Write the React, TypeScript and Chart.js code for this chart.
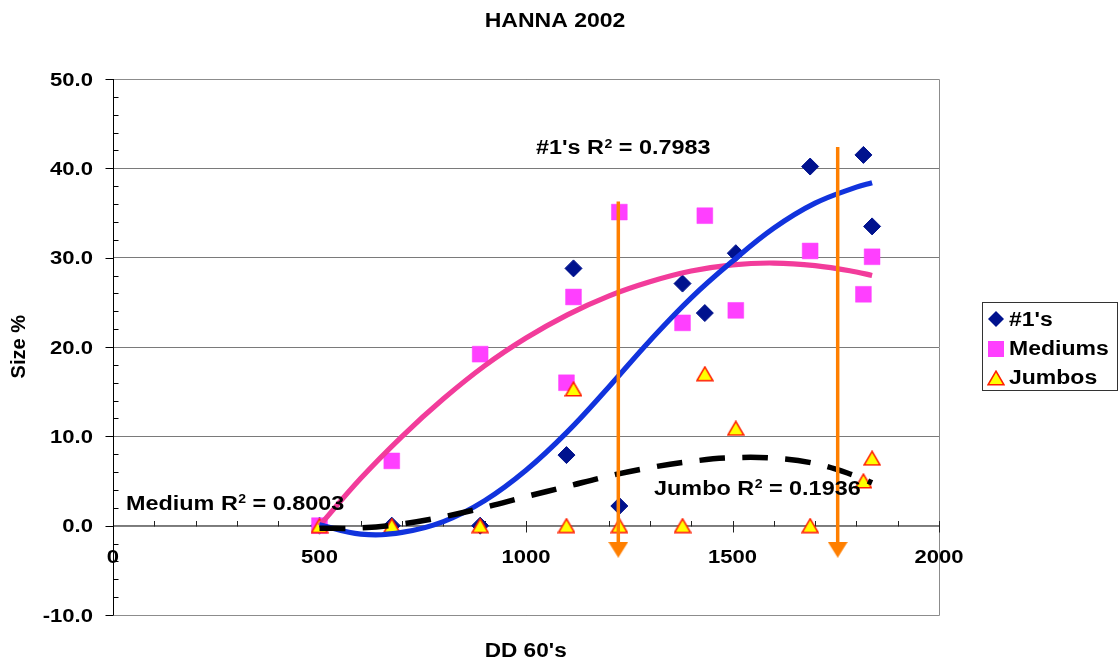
import React, { useEffect, useRef } from "react";
import { Chart, registerables } from "chart.js";

Chart.register(...registerables);

// ---------- data ----------
const TITLE = "HANNA 2002";
const X_TITLE = "DD 60's";
const Y_TITLE = "Size %";
const seriesNames = ["#1's", "Mediums", "Jumbos"];

const ddX = [500, 675, 889, 1098, 1115, 1226, 1379, 1433, 1508, 1688, 1817, 1838];
const onesY = [0, 0, 0, 7.9, 28.8, 2.2, 27.1, 23.8, 30.5, 40.2, 41.5, 33.5];
const mediumsY = [0, 7.25, 19.2, 16.0, 25.6, 35.1, 22.7, 34.7, 24.1, 30.75, 25.9, 30.1];
const jumbosY = [0, 0, 0, 0, 15.3, 0, 0, 17.0, 10.9, 0, 5.0, 7.55];

// trend lines
const trendX = [500, 600, 700, 800, 900, 1000, 1100, 1200, 1300, 1400, 1500, 1600, 1700, 1800, 1838];
const onesTrend = [0.1, -0.95, -0.75, 0.45, 2.8, 6.2, 10.5, 15.5, 20.7, 25.5, 29.6, 33.3, 36.1, 37.9, 38.4];
const mediumsTrend = [0, 5.3, 10.0, 14.2, 17.9, 21.0, 23.6, 25.7, 27.3, 28.5, 29.2, 29.4, 29.1, 28.4, 28.0];
const jumbosTrend = [-0.3, -0.25, 0.2, 1.0, 2.05, 3.25, 4.4, 5.55, 6.5, 7.2, 7.6, 7.55, 6.95, 5.55, 4.8];

// orange arrows
const arrowX = [1223.5, 1754.7];
const arrowTop = [36.3, 42.4];
const arrowHead = -2.69;

// R² annotations
const r2Names = ["#1's", "Medium", "Jumbo"];
const r2Values = ["0.7983", "0.8003", "0.1936"];
const r2AnchorX = [1024, 31.5, 1310];
const r2AnchorY = [41.6, 1.76, 3.44];

// axes
const xTickValues = [0, 500, 1000, 1500, 2000];
const xTickLabels = ["0", "500", "1000", "1500", "2000"];
const yTickValues = [-10, 0, 10, 20, 30, 40, 50];
const yTickLabels = ["-10.0", "0.0", "10.0", "20.0", "30.0", "40.0", "50.0"];

// ---------- styles ----------
const NAVY = "#00128e";
const MAGENTA = "#ff3fff";
const BLUE = "#1133dd";
const PINK = "#f23c9b";
const ORANGE = "#ff7f00";
const FONT = '"Liberation Sans", Arial, sans-serif';

function makeTriangle(): HTMLCanvasElement {
  const c = document.createElement("canvas");
  c.width = 18;
  c.height = 16;
  const g = c.getContext("2d")!;
  g.beginPath();
  g.moveTo(9, 1.2);
  g.lineTo(17, 14.8);
  g.lineTo(1, 14.8);
  g.closePath();
  g.fillStyle = "#ffff00";
  g.fill();
  g.lineWidth = 1.6;
  g.strokeStyle = "#ff2000";
  g.lineJoin = "miter";
  g.stroke();
  return c;
}

function makeArrowHead(): HTMLCanvasElement {
  const c = document.createElement("canvas");
  c.width = 20;
  c.height = 16;
  const g = c.getContext("2d")!;
  g.beginPath();
  g.moveTo(0, 0);
  g.lineTo(20, 0);
  g.lineTo(10, 16);
  g.closePath();
  g.fillStyle = ORANGE;
  g.fill();
  return c;
}

function sText(
  ctx: CanvasRenderingContext2D,
  text: string,
  x: number,
  y: number,
  size: number,
  sx: number,
  align: "left" | "center" | "right"
): number {
  ctx.save();
  ctx.font = `bold ${size}px ${FONT}`;
  const w = ctx.measureText(text).width * sx;
  let left = x;
  if (align === "center") left = x - w / 2;
  else if (align === "right") left = x - w;
  ctx.translate(left, y);
  ctx.scale(sx, 1);
  ctx.textAlign = "left";
  ctx.textBaseline = "alphabetic";
  ctx.fillStyle = "#000";
  ctx.fillText(text, 0, 0);
  ctx.restore();
  return w;
}

function pts(xs: number[], ys: number[]) {
  return xs.map((x, i) => ({ x, y: ys[i] }));
}

export default function App() {
  const ref = useRef<HTMLCanvasElement>(null);

  useEffect(() => {
    const canvas = ref.current!;
    const tri = makeTriangle();
    const head = makeArrowHead();

    const decor = {
      id: "decor",
      beforeDatasetsDraw(chart: any) {
        const ctx: CanvasRenderingContext2D = chart.ctx;
        const xs = chart.scales.x;
        const ys = chart.scales.y;
        const area = chart.chartArea;
        ctx.save();
        // plot border (top/right/bottom)
        ctx.strokeStyle = "#8c8c8c";
        ctx.lineWidth = 1;
        ctx.beginPath();
        ctx.moveTo(area.left, Math.round(area.top) + 0.5);
        ctx.lineTo(Math.round(area.right) + 0.5, Math.round(area.top) + 0.5);
        ctx.lineTo(Math.round(area.right) + 0.5, Math.round(area.bottom) + 0.5);
        ctx.lineTo(area.left, Math.round(area.bottom) + 0.5);
        ctx.stroke();

        // x axis at y = 0
        const y0 = Math.round(ys.getPixelForValue(0)) + 0.5;
        ctx.strokeStyle = "#808080";
        ctx.beginPath();
        ctx.moveTo(area.left, y0);
        ctx.lineTo(area.right, y0);
        ctx.stroke();
        ctx.strokeStyle = "#222";
        for (let v = 100; v <= 2000; v += 100) {
          const px = Math.round(xs.getPixelForValue(v)) + 0.5;
          ctx.beginPath();
          if (v % 500 === 0) {
            ctx.moveTo(px, y0 - 5.5);
            ctx.lineTo(px, y0 + 6);
          } else {
            ctx.moveTo(px, y0 - 5.5);
            ctx.lineTo(px, y0);
          }
          ctx.stroke();
        }

        // y axis at x = 0
        const x0 = Math.round(xs.getPixelForValue(0)) + 0.5;
        ctx.strokeStyle = "#000";
        ctx.beginPath();
        ctx.moveTo(x0, area.top);
        ctx.lineTo(x0, area.bottom);
        ctx.stroke();
        for (let v = -10; v <= 50; v += 2) {
          const py = Math.round(ys.getPixelForValue(v)) + 0.5;
          ctx.beginPath();
          if (v % 10 === 0) {
            ctx.moveTo(x0 - 8, py);
            ctx.lineTo(x0, py);
          } else {
            ctx.moveTo(x0, py);
            ctx.lineTo(x0 + 5, py);
          }
          ctx.stroke();
        }
        ctx.restore();
      },
      afterDraw(chart: any) {
        const ctx: CanvasRenderingContext2D = chart.ctx;
        const xs = chart.scales.x;
        const ys = chart.scales.y;

        // title
        sText(ctx, TITLE, 555, 26.7, 20, 1.15, "center");

        // y tick labels
        yTickValues.forEach((v, i) => {
          const py = ys.getPixelForValue(v);
          sText(ctx, yTickLabels[i], 93, py + 6.8, 19, 1.16, "right");
        });
        // x tick labels
        const y0 = ys.getPixelForValue(0);
        xTickValues.forEach((v, i) => {
          const px = xs.getPixelForValue(v);
          sText(ctx, xTickLabels[i], px, y0 + 37.5, 19, 1.16, "center");
        });

        // axis titles
        sText(ctx, X_TITLE, 525.7, 656.7, 20, 1.13, "center");
        ctx.save();
        ctx.translate(25, 346.7);
        ctx.rotate(-Math.PI / 2);
        ctx.font = `bold 20px ${FONT}`;
        ctx.fillStyle = "#000";
        ctx.textAlign = "center";
        ctx.textBaseline = "alphabetic";
        ctx.fillText(Y_TITLE, 0, 0);
        ctx.restore();

        // R² annotations
        r2Names.forEach((name, i) => {
          const px = xs.getPixelForValue(r2AnchorX[i]);
          const py = ys.getPixelForValue(r2AnchorY[i]);
          let x = px;
          x += sText(ctx, name + " R", x, py, 20, 1.17, "left");
          x += sText(ctx, "2", x + 0.5, py - 6.5, 12, 1.17, "left") + 0.5;
          sText(ctx, " = " + r2Values[i], x, py, 20, 1.17, "left");
        });

        // legend
        ctx.save();
        ctx.strokeStyle = "#333";
        ctx.lineWidth = 1;
        ctx.strokeRect(982.5, 302.5, 135, 88);
        const mx = 996;
        const rows = [319, 349, 378];
        const bases = [325.5, 355, 384];
        // diamond
        ctx.fillStyle = NAVY;
        ctx.beginPath();
        ctx.moveTo(mx, rows[0] - 8);
        ctx.lineTo(mx + 8, rows[0]);
        ctx.lineTo(mx, rows[0] + 8);
        ctx.lineTo(mx - 8, rows[0]);
        ctx.closePath();
        ctx.fill();
        // square
        ctx.fillStyle = MAGENTA;
        ctx.fillRect(mx - 8, rows[1] - 8, 16, 16);
        // triangle
        ctx.drawImage(tri, mx - 9, rows[2] - 8);
        ctx.restore();
        seriesNames.forEach((n, i) => {
          sText(ctx, n, 1009, bases[i], 19.5, 1.18, "left");
        });
      },
    };

    const arrowSets = arrowX.map((ax, i) => ({
      label: "arrow" + i,
      data: [
        { x: ax, y: arrowTop[i] },
        { x: ax, y: arrowHead },
      ],
      showLine: true,
      borderColor: ORANGE,
      backgroundColor: ORANGE,
      borderWidth: 3.5,
      pointRadius: [0, 10],
      pointStyle: head,
      order: 0,
    }));

    const trendStyle = {
      showLine: true,
      pointRadius: 0,
      tension: 0.4,
      borderCapStyle: "butt",
    };

    const chart = new Chart(canvas, {
      type: "scatter",
      data: {
        datasets: [
          {
            label: seriesNames[0],
            data: pts(ddX, onesY),
            pointStyle: "rectRot",
            pointRadius: 8.5,
            pointBackgroundColor: NAVY,
            pointBorderColor: NAVY,
            pointBorderWidth: 1,
            order: 6,
          },
          {
            label: seriesNames[1],
            data: pts(ddX, mediumsY),
            pointStyle: "rect",
            pointRadius: 11.2,
            pointBackgroundColor: MAGENTA,
            pointBorderColor: MAGENTA,
            pointBorderWidth: 0.5,
            order: 5,
          },
          {
            label: seriesNames[2],
            data: pts(ddX, jumbosY),
            pointStyle: tri,
            pointRadius: 8,
            order: 4,
          },
          {
            ...trendStyle,
            label: "Mediums trend",
            data: pts(trendX, mediumsTrend),
            borderColor: PINK,
            borderWidth: 5.2,
            order: 3,
          },
          {
            ...trendStyle,
            label: "#1's trend",
            data: pts(trendX, onesTrend),
            borderColor: BLUE,
            borderWidth: 5.2,
            order: 2,
          },
          {
            ...trendStyle,
            label: "Jumbos trend",
            data: pts(trendX, jumbosTrend),
            borderColor: "#000",
            borderWidth: 5.5,
            borderDash: [26, 17],
            order: 1,
          },
          ...arrowSets,
        ] as any,
      },
      options: {
        animation: false,
        responsive: false,
        devicePixelRatio: 1,
        events: [],
        layout: { padding: { left: 113, right: 181, top: 79, bottom: 47 } },
        plugins: {
          legend: { display: false },
          title: { display: false },
          tooltip: { enabled: false },
        },
        scales: {
          x: {
            type: "linear",
            min: 0,
            max: 2000,
            grid: { display: false },
            border: { display: false },
            ticks: { display: false, stepSize: 500 },
            afterFit: (s: any) => {
              s.height = 0;
            },
          },
          y: {
            type: "linear",
            min: -10,
            max: 50,
            grid: { color: "#7a7a7a", lineWidth: 1, drawTicks: false },
            border: { display: false },
            ticks: { display: false, stepSize: 10 },
            afterFit: (s: any) => {
              s.width = 0;
            },
          },
        },
      } as any,
      plugins: [decor],
    });

    return () => chart.destroy();
  }, []);

  return (
    <div style={{ position: "absolute", left: 0, top: 0, width: 1120, height: 662, background: "#fff" }}>
      <canvas ref={ref} width={1120} height={662} style={{ display: "block", width: 1120, height: 662 }} />
    </div>
  );
}
